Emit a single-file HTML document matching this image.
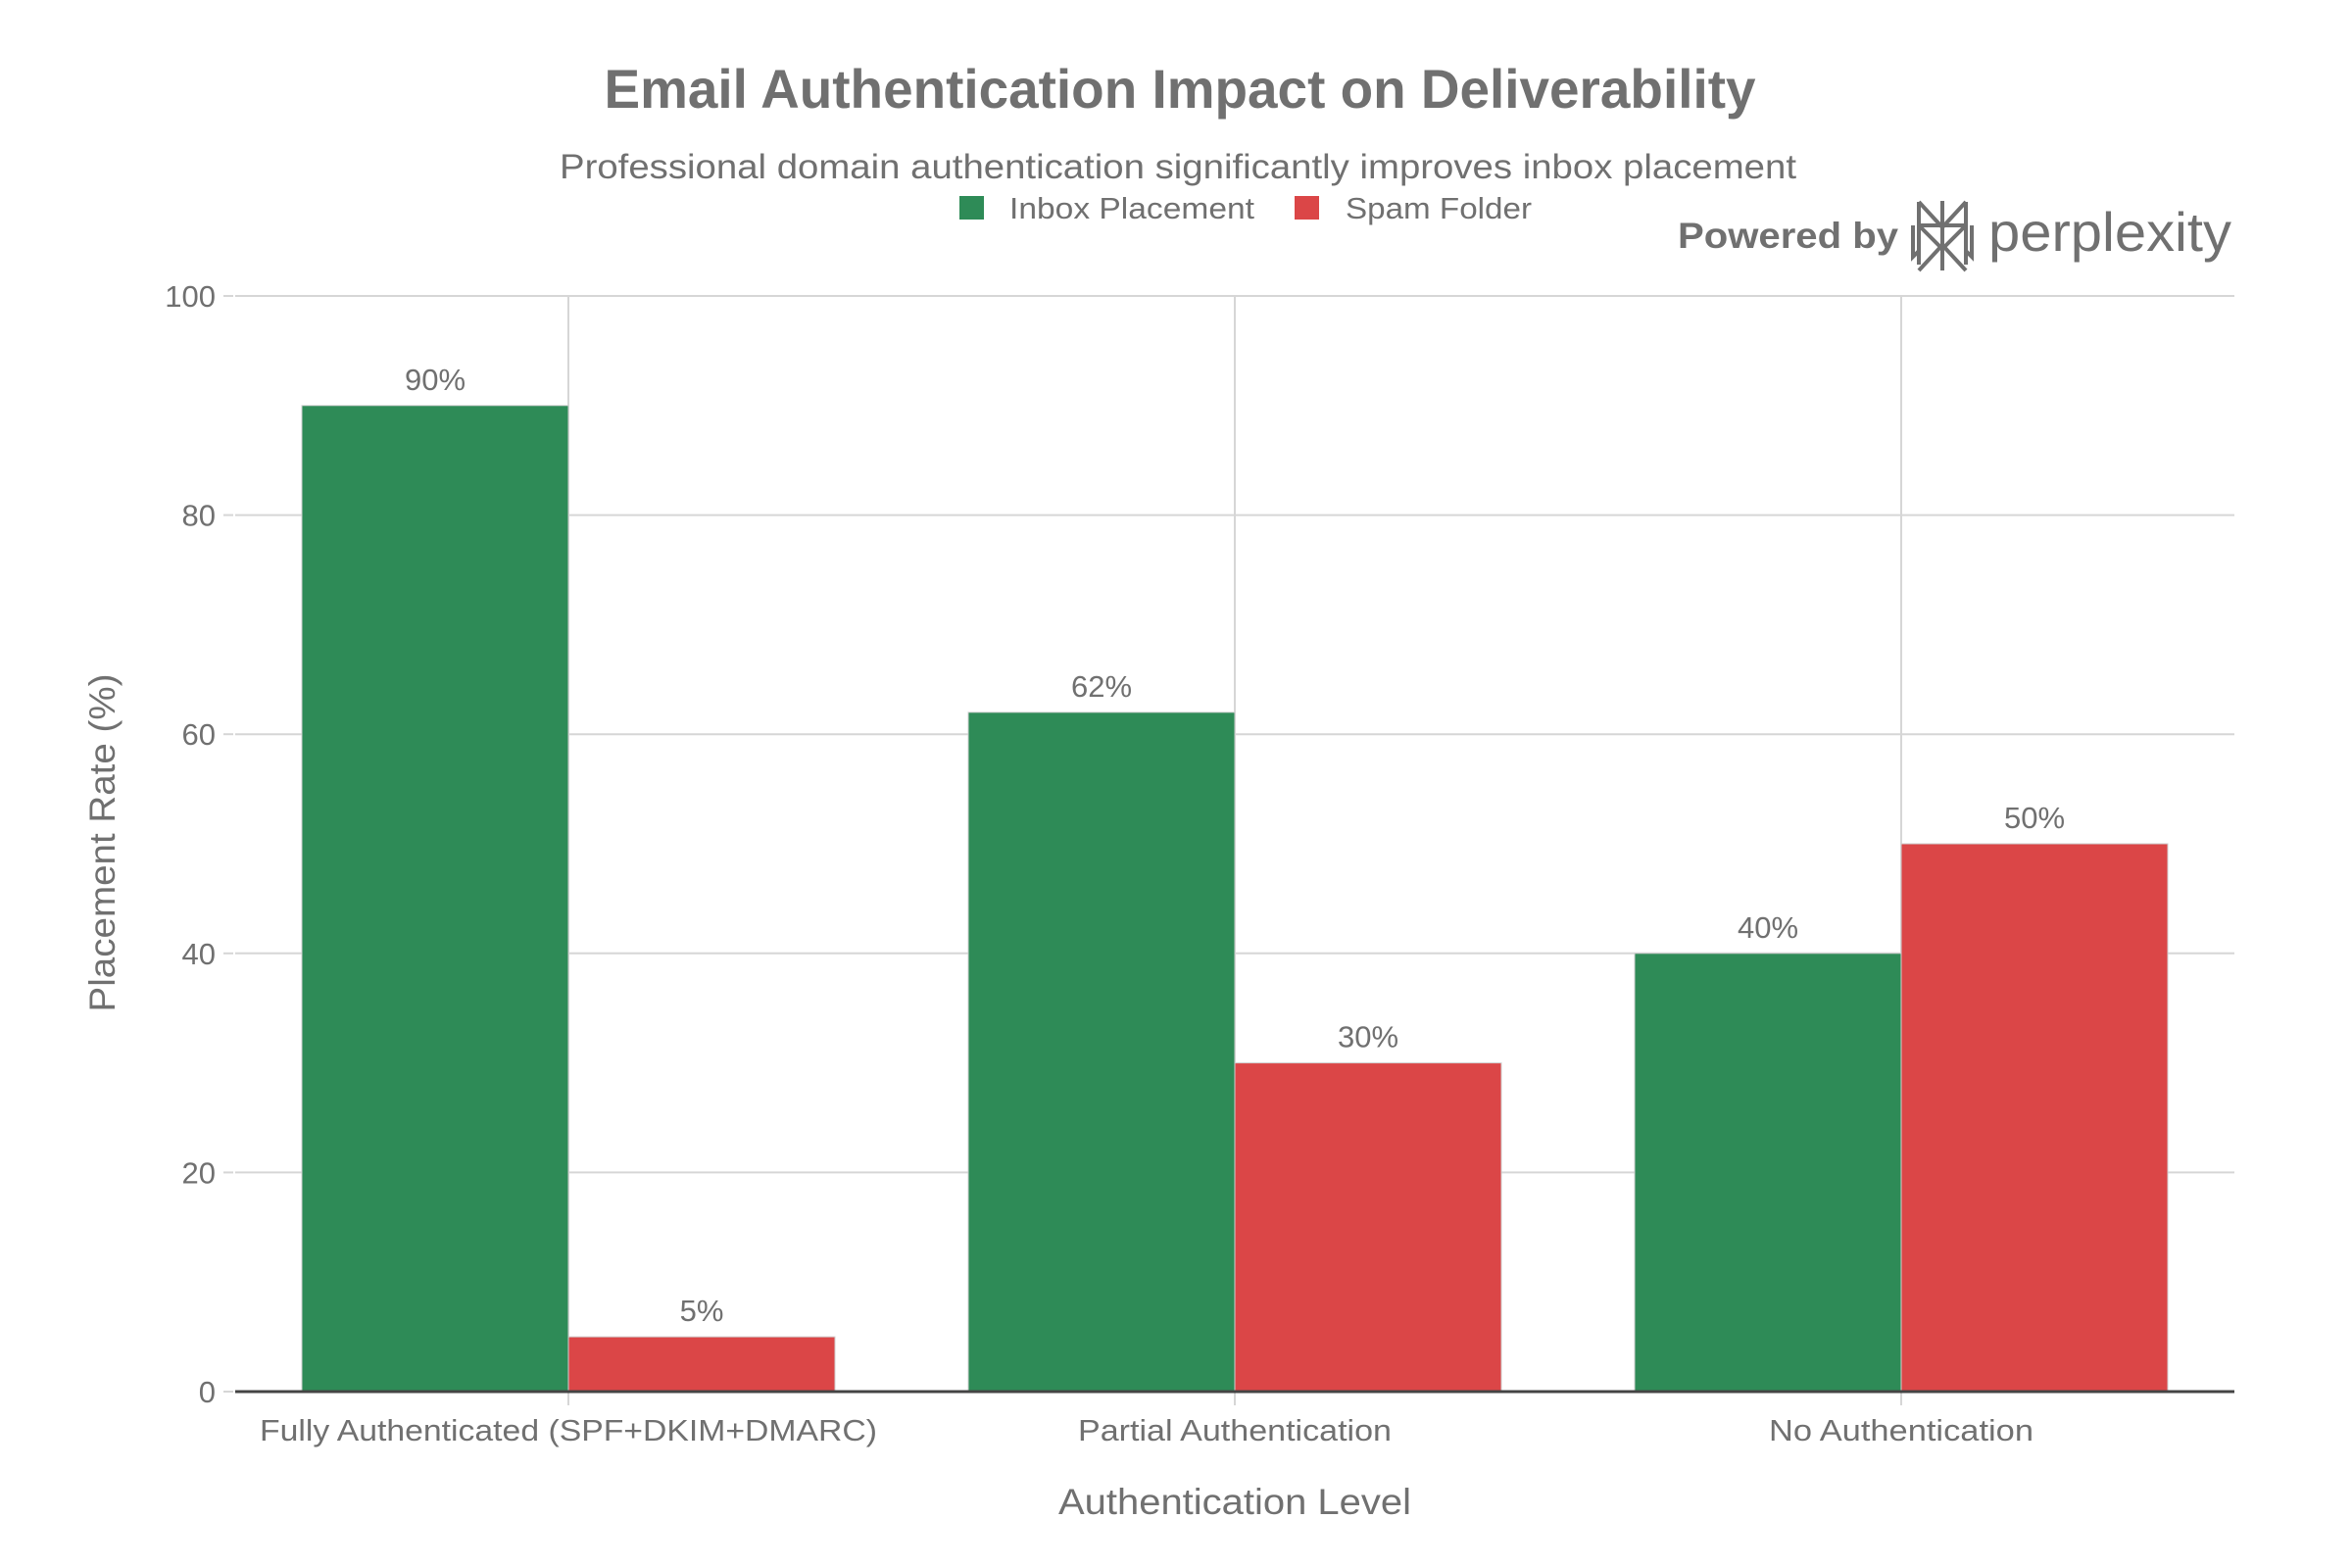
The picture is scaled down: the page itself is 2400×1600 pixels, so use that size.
<!DOCTYPE html>
<html><head><meta charset="utf-8"><style>
html,body{margin:0;padding:0;background:#fff;}
svg{display:block;font-family:"Liberation Sans",sans-serif;}
</style></head><body>
<svg id="chart" width="2400" height="1600" viewBox="0 0 2400 1600" xmlns="http://www.w3.org/2000/svg">
<rect x="0" y="0" width="2400" height="1600" fill="#fff"/>
<text x="1204" y="110" text-anchor="middle" font-size="56" font-weight="bold" fill="#707070" textLength="1175" lengthAdjust="spacingAndGlyphs">Email Authentication Impact on Deliverability</text>
<text x="1202" y="182" text-anchor="middle" font-size="35" fill="#707070" textLength="1262" lengthAdjust="spacingAndGlyphs">Professional domain authentication significantly improves inbox placement</text>
<g>
<rect x="979" y="200" width="25" height="24" fill="#2E8B57"/>
<text x="1030" y="223" font-size="31" fill="#707070" textLength="250" lengthAdjust="spacingAndGlyphs">Inbox Placement</text>
<rect x="1321" y="200" width="25" height="24" fill="#DB4647"/>
<text x="1373" y="223" font-size="31" fill="#707070" textLength="190" lengthAdjust="spacingAndGlyphs">Spam Folder</text>
</g>
<g fill="#707070">
<text x="1712" y="253" font-size="37" font-weight="bold" textLength="225" lengthAdjust="spacingAndGlyphs">Powered by</text>
<g fill="none" stroke="#707070" stroke-width="4">
<path d="M1982 205 V276 M1958 206 L1982 232 L2006 206 M1958 206 V230 H2006 V206 M1958 230 L1982 254 L2006 230 M1952 230 V262 L1958 256 M2012 230 V262 L2006 256 M1958 276 L1982 250 L2006 276 M1958 230 V270 M2006 230 V270"/>
</g>
<text x="2029" y="256" font-size="56" textLength="248" lengthAdjust="spacingAndGlyphs">perplexity</text>
</g>
<g id="grid"></g>
<g id="bars"></g>
<g id="axes"></g>
<text transform="translate(117,860) rotate(-90)" text-anchor="middle" font-size="37" fill="#707070" textLength="345" lengthAdjust="spacingAndGlyphs">Placement Rate (%)</text>
<text x="1260" y="1545" text-anchor="middle" font-size="37" fill="#707070" textLength="360" lengthAdjust="spacingAndGlyphs">Authentication Level</text>
</svg>
<script>
const categories = ["Fully Authenticated (SPF+DKIM+DMARC)", "Partial Authentication", "No Authentication"];
const inboxValues = [90, 62, 40];
const spamValues = [5, 30, 50];
const yTicks = [0, 20, 40, 60, 80, 100];
const catLabelWidths = [630, 320, 270];

const NS = "http://www.w3.org/2000/svg";
const X0 = 240, X1 = 2280, Y0 = 1420, Y100 = 302;
const band = (X1 - X0) / categories.length;
function xCenter(i){ return X0 + band * (i + 0.5); }
function yScale(v){ return Y0 - (v / 100) * (Y0 - Y100); }
function mk(tag, attrs, parent){
  const el = document.createElementNS(NS, tag);
  for (const k in attrs) el.setAttribute(k, attrs[k]);
  parent.appendChild(el);
  return el;
}
const grid = document.getElementById('grid');
const bars = document.getElementById('bars');
const axes = document.getElementById('axes');

yTicks.forEach(t => {
  const y = yScale(t);
  if (t !== 0) {
    const gl = mk('line', {x1: X0, x2: X1, y1: y, y2: y, stroke: '#d6d6d6', 'stroke-width': 2}, grid);
    
    
  }
  const tk = mk('line', {x1: 228, x2: 238, y1: y, y2: y, stroke: '#d6d6d6', 'stroke-width': 2}, axes);
  
  
  const lb = mk('text', {x: 220, y: y + 11, 'text-anchor': 'end', 'font-size': 31, fill: '#707070'}, axes);
  lb.textContent = String(t);
  
  
});

categories.forEach((c, i) => {
  const cx = xCenter(i);
  const vl = mk('line', {x1: cx, x2: cx, y1: Y100, y2: Y0 + 14, stroke: '#d6d6d6', 'stroke-width': 2}, grid);
  
  
  const bw = band * 0.4;
  const series = [[inboxValues[i], '#2E8B57', cx - bw, 'bar-inbox'], [spamValues[i], '#DB4647', cx, 'bar-spam']];
  series.forEach(s => {
    const top = yScale(s[0]);
    const r = mk('rect', {x: s[2], y: top, width: bw, height: Y0 - top, fill: s[1], stroke: '#cfcfcf', 'stroke-width': 1}, bars);
    
    
    const t = mk('text', {x: s[2] + bw / 2, y: top - 16, 'text-anchor': 'middle', 'font-size': 31, fill: '#707070'}, bars);
    t.textContent = s[0] + '%';
    
    
  });
  const xl = mk('text', {x: cx, y: 1470, 'text-anchor': 'middle', 'font-size': 31, fill: '#707070', textLength: catLabelWidths[i], lengthAdjust: 'spacingAndGlyphs'}, axes);
  xl.textContent = c;
  
  
});

const ax = mk('line', {x1: X0, x2: X1, y1: Y0, y2: Y0, stroke: '#444', 'stroke-width': 3}, axes);


</script>
</body></html>
